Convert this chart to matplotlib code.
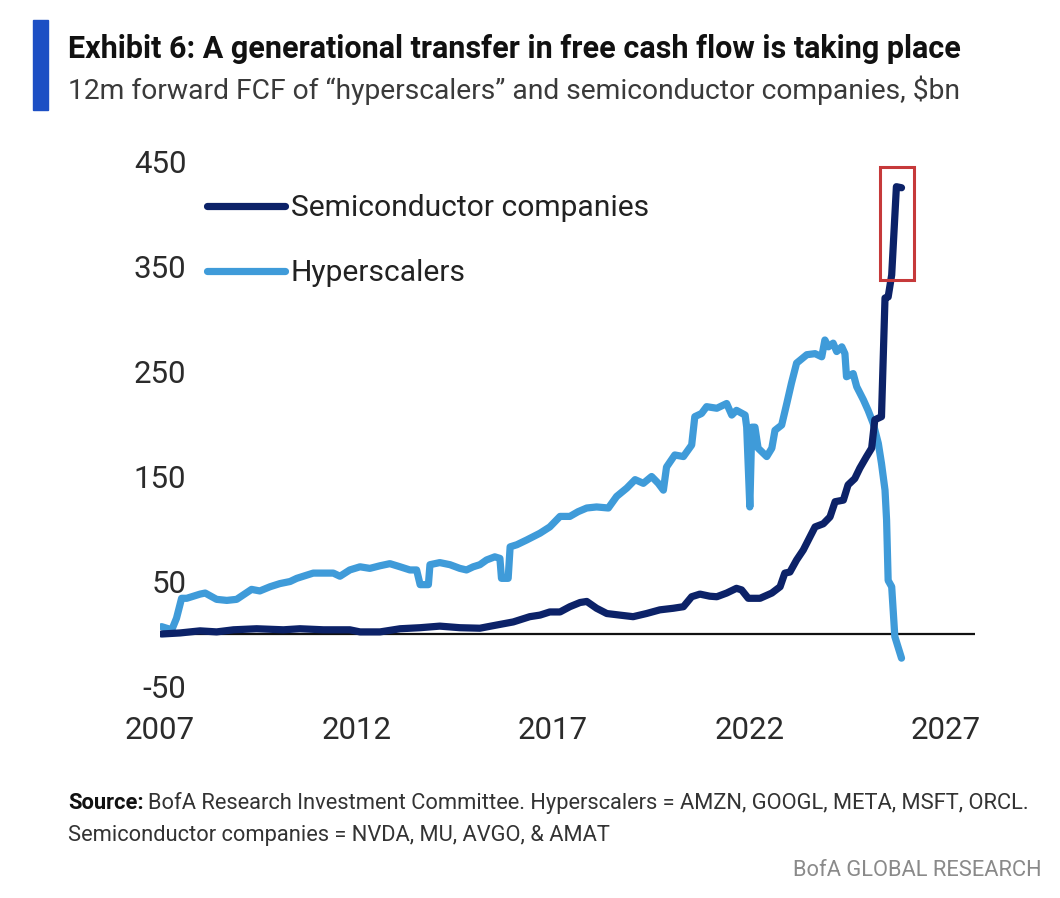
import matplotlib

matplotlib.use("Agg")
import matplotlib.pyplot as plt  # noqa: E402
from matplotlib.patches import Rectangle  # noqa: E402

FONT = ["Roboto", "DejaVu Sans"]
plt.rcParams["font.family"] = FONT
plt.rcParams["axes.unicode_minus"] = False

W, H = 1060, 898
NAVY = "#0c2268"
LIGHT = "#3f9bd9"

# 12m forward FCF, $bn
hyper_years = [
    2007.04, 2007.30, 2007.42, 2007.55, 2007.68, 2008.02, 2008.15, 2008.44, 2008.70, 2008.95,
    2009.11, 2009.33, 2009.54, 2009.80, 2010.05, 2010.31, 2010.48, 2010.73, 2010.90, 2011.16,
    2011.41, 2011.58, 2011.83, 2012.09, 2012.34, 2012.60, 2012.85, 2013.11, 2013.36, 2013.53,
    2013.62, 2013.83, 2013.87, 2014.12, 2014.38, 2014.63, 2014.80, 2014.97, 2015.14, 2015.31,
    2015.52, 2015.65, 2015.69, 2015.86, 2015.91, 2016.08, 2016.33, 2016.67, 2016.92, 2017.18,
    2017.43, 2017.64, 2017.86, 2018.11, 2018.41, 2018.62, 2018.88, 2019.09, 2019.30, 2019.51,
    2019.68, 2019.81, 2019.89, 2020.10, 2020.32, 2020.53, 2020.61, 2020.78, 2020.91, 2021.17,
    2021.42, 2021.55, 2021.67, 2021.89, 2021.93, 2022.01, 2022.06, 2022.14, 2022.22, 2022.44,
    2022.57, 2022.65, 2022.82, 2022.95, 2023.07, 2023.20, 2023.46, 2023.67, 2023.84, 2023.92,
    2024.01, 2024.13, 2024.22, 2024.35, 2024.43, 2024.47, 2024.64, 2024.73, 2024.90, 2025.02,
    2025.15, 2025.28, 2025.36, 2025.45, 2025.49, 2025.53, 2025.62, 2025.70, 2025.87,
]
hyper_fcf = [
    7, 4, 15, 34, 34, 38, 39, 33, 32, 33,
    37, 42.5, 41, 45, 48, 50, 53, 56, 58, 58,
    58, 55, 61, 64, 62.5, 65, 67, 64, 61, 61,
    47, 47, 66, 68, 66, 62.5, 61, 64, 66, 70.5,
    73.5, 72, 53, 53, 83, 85, 89.5, 96, 102, 112,
    112, 116.5, 120, 121, 120, 131, 139, 147, 143.5, 150,
    143.5, 137, 159, 170.5, 169, 180, 207, 210, 216.5, 215,
    219.5, 208.5, 213, 208.5, 197, 121, 197, 197, 177, 169,
    177, 194, 199, 219.5, 239, 258, 266, 267, 264, 280,
    273.5, 277, 269, 273.5, 267, 245, 248, 235.5, 223, 213,
    200.5, 181.5, 162.5, 137, 108.5, 51, 45, -2.5, -23,
]

semi_years = [
    2007.04, 2007.51, 2008.02, 2008.44, 2008.87, 2009.46, 2010.14, 2010.56, 2011.16, 2011.83,
    2012.09, 2012.60, 2013.11, 2013.62, 2014.12, 2014.63, 2015.14, 2015.56, 2015.99, 2016.41,
    2016.67, 2016.92, 2017.18, 2017.43, 2017.69, 2017.86, 2018.11, 2018.37, 2018.70, 2019.04,
    2019.38, 2019.72, 2020.06, 2020.32, 2020.53, 2020.74, 2020.99, 2021.17, 2021.42, 2021.67,
    2021.80, 2021.97, 2022.27, 2022.57, 2022.78, 2022.90, 2023.03, 2023.20, 2023.37, 2023.54,
    2023.67, 2023.88, 2024.05, 2024.18, 2024.39, 2024.51, 2024.68, 2024.81, 2024.98, 2025.11,
    2025.19, 2025.36, 2025.45, 2025.53, 2025.62, 2025.74, 2025.87,
]
semi_fcf = [
    0, 1, 3, 2, 4, 5, 4, 5, 4, 4,
    2, 2, 5, 6, 7.5, 6, 5.5, 8.5, 11.5, 16.5,
    18, 21, 21, 26, 30, 31, 24.5, 19.5, 18, 16.5,
    19.5, 23, 24.5, 26, 35.5, 38, 36, 35.5, 39, 43.5,
    42, 34, 34, 39, 45, 58, 59, 70.5, 80, 92.5,
    102, 105, 111.5, 126, 127.5, 142, 148, 158, 169, 177,
    204, 207, 320, 321, 342, 426, 425,
]

x_ticks = [2007, 2012, 2017, 2022, 2027]
y_ticks = [-50, 50, 150, 250, 350, 450]


def fit_width(txt, target_px):
    """Scale a text's font size so it spans roughly target_px."""
    fig.canvas.draw()
    w = txt.get_window_extent().width
    txt.set_fontsize(txt.get_fontsize() * target_px / w)


fig = plt.figure(figsize=(W / 100, H / 100), dpi=100)
fig.patch.set_facecolor("white")

# blue accent bar and headings
fig.patches.append(Rectangle((33 / W, 1 - 110 / H), 15 / W, 90 / H,
                             transform=fig.transFigure, color="#1c4fc4", zorder=0))
title = fig.text(68 / W, 1 - 49 / H, "Exhibit 6: A generational transfer in free cash flow is taking place",
                 fontsize=18, fontweight="bold", color="#111111", va="center", ha="left")
fit_width(title, 895)
sub = fig.text(68 / W, 1 - 90 / H, "12m forward FCF of \u201chyperscalers\u201d and semiconductor companies, $bn",
               fontsize=17, color="#3a3a3a", va="center", ha="left")
fit_width(sub, 893)

ax = fig.add_axes([160 / W, (H - 697) / H, 815 / W, 546 / H])
ax.set_xlim(2007, 2027.74)
ax.set_ylim(-60, 460)
for s in ax.spines.values():
    s.set_visible(False)

ax.plot([2007, 2027.74], [0, 0], color="#111111", lw=1.6, zorder=1, solid_capstyle="butt")
ax.plot(hyper_years, hyper_fcf, color=LIGHT, lw=5.2, solid_joinstyle="round",
        solid_capstyle="round", label="Hyperscalers", zorder=2)
ax.plot(semi_years, semi_fcf, color=NAVY, lw=5.2, solid_joinstyle="round",
        solid_capstyle="round", label="Semiconductor companies", zorder=3)

# highlight box around the latest semis surge
ax.add_patch(Rectangle((2025.32, 337), 0.87, 107.5, fill=False,
                       edgecolor="#c6393a", lw=2.2, zorder=4))

ax.set_xticks(x_ticks)
ax.set_yticks(y_ticks)
ax.tick_params(axis="both", length=0, labelsize=22.5, labelcolor="#2b2b2b")
ax.tick_params(axis="y", pad=-19)
ax.tick_params(axis="x", pad=14)

handles, labels = ax.get_legend_handles_labels()
leg = ax.legend(handles[::-1], labels[::-1], loc="upper left", bbox_to_anchor=(0.026, 0.968),
                frameon=False, fontsize=20.5, handlelength=2.75, handletextpad=0.2,
                labelspacing=1.3, labelcolor="#222222")
fit_width(leg.get_texts()[0], 358)
for t in leg.get_texts()[1:]:
    t.set_fontsize(leg.get_texts()[0].get_fontsize())

# source note: size the long line first so "Source:" can match it
note1 = fig.text(150 / W, 1 - 803 / H,
                 "BofA Research Investment Committee. Hyperscalers = AMZN, GOOGL, META, MSFT, ORCL.",
                 fontsize=14, color="#333333", va="center", ha="left")
fit_width(note1, 888)
fs = note1.get_fontsize()
src = fig.text(68 / W, 1 - 803 / H, "Source:", fontsize=fs, fontweight="bold",
               color="#111111", va="center", ha="left")
fig.canvas.draw()
note1.set_x(src.get_window_extent().x1 / W + 4 / W)
fig.text(68 / W, 1 - 835 / H, "Semiconductor companies = NVDA, MU, AVGO, & AMAT",
         fontsize=fs, color="#333333", va="center", ha="left")
fig.text(1042 / W, 1 - 870 / H, "BofA GLOBAL RESEARCH", fontsize=fs,
         color="#8a8a8a", va="center", ha="right")

fig.savefig("out.png", dpi=100, facecolor="white")
